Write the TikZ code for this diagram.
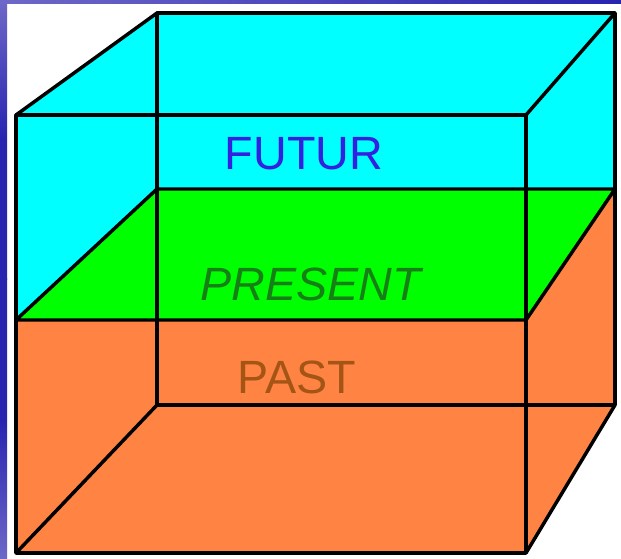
\documentclass[tikz,border=0pt]{standalone}
\usepackage{fontspec}
\setmainfont{Liberation Sans}
\definecolor{cubecyan}{RGB}{0,255,255}
\definecolor{cubegreen}{RGB}{0,255,0}
\definecolor{cubeorange}{RGB}{255,132,68}
\definecolor{futurblue}{RGB}{52,32,222}
\definecolor{presgreen}{RGB}{22,128,22}
\definecolor{pastbrown}{RGB}{164,84,20}
\definecolor{slideblue}{RGB}{40,36,176}
\definecolor{slidelight}{RGB}{110,104,200}
\tikzset{
  edge/.style={draw=black, line width=2.6pt, line join=round, line cap=round},
  label/.style={inner sep=0pt, font=\fontsize{35}{40}\selectfont}
}
\begin{document}
\begin{tikzpicture}[x=0.75pt, y=-0.75pt]
\useasboundingbox (0,0) rectangle (621,559);
\fill[white] (0,0) rectangle (621,559);
% slide background strips
\shade[top color=slidelight, bottom color=slideblue, middle color=slideblue] (0,0) rectangle (7,280);
\shade[top color=slideblue, bottom color=slidelight, middle color=slideblue] (0,279) rectangle (7,559);
\shade[left color=slidelight, right color=slideblue] (0,0) rectangle (621,3.5);
% vertices
\coordinate (FTL) at (16,115);
\coordinate (FTR) at (526,115);
\coordinate (FBR) at (526,553);
\coordinate (FBL) at (16,553);
\coordinate (BTL) at (157,13);
\coordinate (BTR) at (615,13);
\coordinate (BBR) at (615,405);
\coordinate (BBL) at (157,405);
\coordinate (PFL) at (16,320);
\coordinate (PFR) at (526,320);
\coordinate (PBR) at (615,189);
\coordinate (PBL) at (157,189);
% fills
\fill[cubecyan] (FTL) -- (BTL) -- (BTR) -- (BBR) -- (FBR) -- (FBL) -- cycle;
\fill[cubegreen] (PFL) -- (PBL) -- (PBR) -- (PFR) -- cycle;
\fill[cubeorange] (PFL) -- (PFR) -- (PBR) -- (BBR) -- (FBR) -- (FBL) -- cycle;
% back face
\draw[edge] (BTL) -- (BTR) -- (BBR) -- (BBL) -- cycle;
% plane
\draw[edge] (PFL) -- (PBL) -- (PBR) -- (PFR) -- cycle;
% connecting edges
\draw[edge] (FTL) -- (BTL);
\draw[edge] (FTR) -- (BTR);
\draw[edge] (FBR) -- (BBR);
\draw[edge] (FBL) -- (BBL);
% front face
\draw[edge] (FTL) -- (FTR) -- (FBR) -- (FBL) -- cycle;
% labels
\node[label, text=futurblue] (futur) at (304,154) {FUTUR};
\node[label, text=presgreen] (present) at (311,284) {\itshape PRESENT};
\node[label, text=pastbrown] (past) at (297,377.5) {PAST};
\end{tikzpicture}
\end{document}
